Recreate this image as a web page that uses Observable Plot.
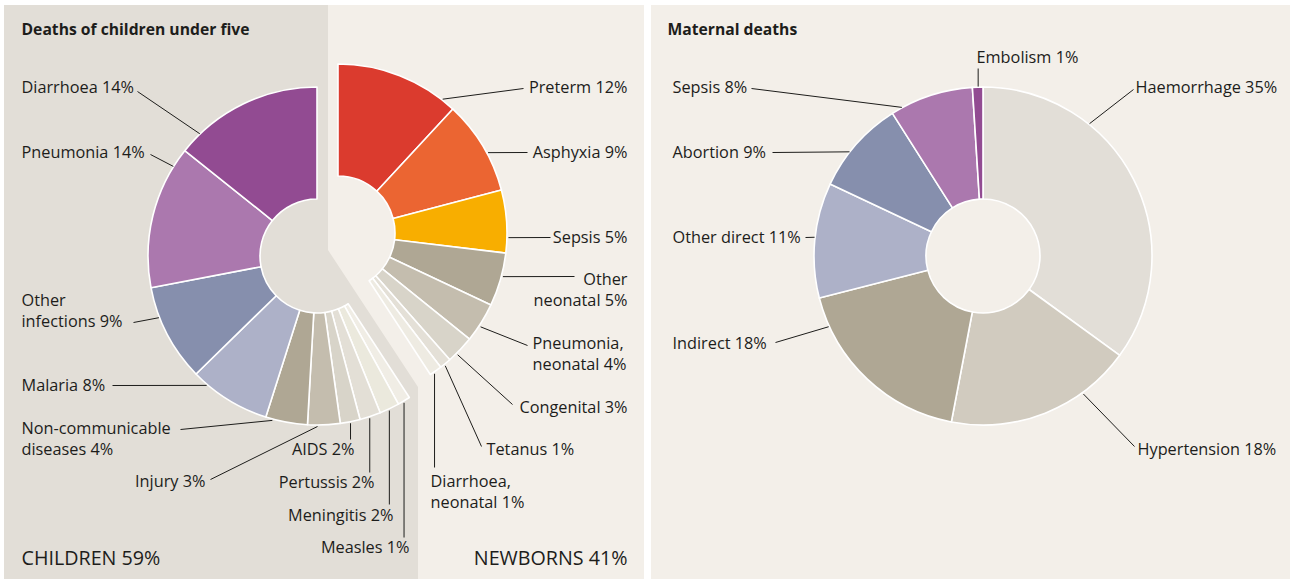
<!DOCTYPE html>
<html><head><meta charset="utf-8">
<script src="https://cdn.jsdelivr.net/npm/d3@7"></script>
<script src="https://cdn.jsdelivr.net/npm/@observablehq/plot@0.6"></script>
<style>body{margin:0;background:#fff;} svg{display:block;}</style>
</head><body><div id="chart"></div>
<script>
// ---------- DATA ----------
const newbornCauses = ["Preterm","Asphyxia","Sepsis","Other neonatal","Pneumonia, neonatal","Congenital","Tetanus","Diarrhoea, neonatal"];
const newbornValues = [11.9, 9.0, 6.0, 5.1, 3.8, 2.7, 1.1, 1.2];
const newbornLabels = ["Preterm 12%","Asphyxia 9%","Sepsis 5%","Other\nneonatal 5%","Pneumonia,\nneonatal 4%","Congenital 3%","Tetanus 1%","Diarrhoea,\nneonatal 1%"];

const childCauses = ["Measles","Meningitis","Pertussis","AIDS","Injury","Non-communicable diseases","Malaria","Other infections","Pneumonia","Diarrhoea"];
const childValues = [1.2, 1.9, 2.0, 1.9, 3.1, 4.0, 7.8, 9.3, 13.7, 14.3];
const childLabels = ["Measles 1%","Meningitis 2%","Pertussis 2%","AIDS 2%","Injury 3%","Non-communicable\ndiseases 4%","Malaria 8%","Other\ninfections 9%","Pneumonia 14%","Diarrhoea 14%"];

const maternalCauses = ["Haemorrhage","Hypertension","Indirect","Other direct","Abortion","Sepsis","Embolism"];
const maternalValues = [35, 18, 18, 11, 9, 8, 1];
const maternalLabels = ["Haemorrhage 35%","Hypertension 18%","Indirect 18%","Other direct 11%","Abortion 9%","Sepsis 8%","Embolism 1%"];

const panelTitles = ["Deaths of children under five","Maternal deaths"];
const groupLabels = ["CHILDREN 59%","NEWBORNS 41%"];

// ---------- STYLE ----------
const newbornColors = ["#db3b2e","#eb6532","#f8ae00","#afa794","#c4bdae","#d8d4c9","#e4e0d7","#eeebe2"];
const childColors = ["#f0ede5","#ebe9dd","#e3dfd6","#d8d4c9","#c4bdae","#afa794","#adb1c8","#868fad","#ab78ae","#924b92"];
const maternalColors = ["#e2ded7","#d1cbbf","#afa794","#adb1c8","#868fad","#ab78ae","#924b92"];
const DARK = "#e2ded7", LIGHT = "#f3efe9", INK = "#1d1d1b";
const FONT = "Open Sans";
const LABEL_SIZE = 16.3, TITLE_SIZE = 15.7, BIG_SIZE = 19.7;

// ---------- LAYOUT ----------
const centers = {newborn: [338, 233], children: [317, 256], maternal: [983, 256]};
const R0 = 57, R1 = 169, RL = 170;
// label layout: text x, text y (block centre), anchor, leader angle (deg), leader end x (null = vertical), leader end y
const newbornLayout = [
  [627, 87, "end", 37.8, 523, 88],
  [627, 152, "end", 61.6, 527, 152],
  [627, 237, "end", 91.4, 550, 237],
  [627, 289.5, "end", 104.7, 574, 276],
  [532, 353.5, "start", 123.3, 527, 345],
  [627, 407, "end", 135.5, 512, 404],
  [486, 449, "start", 141.1, 481, 446],
  [430, 492, "start", 145.6, null, 467]
];
const childLayout = [
  [409, 547, "end", 149.4, null, 537],
  [393, 515, "end", 155.0, null, 504],
  [374, 482, "end", 162.1, null, 472],
  [354, 449, "end", 168.8, null, 439],
  [205, 481, "end", 180.0, 210, 479],
  [21, 438.5, "start", 195.4, 180, 429],
  [21, 385, "start", 220.7, 112, 385],
  [21, 310.5, "start", 248.9, 133, 322],
  [21, 152, "start", 302.0, 150, 154],
  [21, 87, "start", 316.2, 137, 91]
];
const maternalLayout = [
  [1135, 87, "start", 38.6, 1133, 89],
  [1137, 449, "start", 144.0, 1134, 446],
  [672, 343, "start", 245.6, 775, 342],
  [672, 237, "start", 276.5, 805, 237],
  [672, 152, "start", 308.0, 772, 152],
  [672, 87, "start", 331.3, 751, 88],
  [976, 57, "start", 358.2, null, 68]
];

// ---------- BUILD TABLES ----------
const slices = [];
const labels = [];
const leaders = [];
function addGroup(group, causes, values, texts, colors, layout, startPct) {
  const [cx, cy] = centers[group];
  let cum = startPct;
  causes.forEach((c, i) => {
    const a0 = cum / 100 * 2 * Math.PI;
    cum += values[i];
    const a1 = cum / 100 * 2 * Math.PI;
    slices.push({group, cause: c, cx, cy, a0, a1, color: colors[i]});
    const [tx, ty, anchor, deg, ex, ey] = layout[i];
    const a = deg * Math.PI / 180;
    const sx = cx + RL * Math.sin(a), sy = cy - RL * Math.cos(a);
    leaders.push({x1: sx, y1: sy, x2: ex == null ? sx : ex, y2: ey});
    labels.push({x: tx, y: ty, text: texts[i], anchor});
  });
  return cum;
}
const nbTotal = addGroup("newborn", newbornCauses, newbornValues, newbornLabels, newbornColors, newbornLayout, 0);
addGroup("children", childCauses, childValues, childLabels, childColors, childLayout, nbTotal);
addGroup("maternal", maternalCauses, maternalValues, maternalLabels, maternalColors, maternalLayout, 0);

// donut mark rendered through the plot's x/y scales
function donut(data) {
  return (index, scales) => {
    const {x, y} = scales;
    const g = d3.create("svg:g");
    const arc = d3.arc();
    for (const s of data) {
      const px = x(s.cx), py = y(s.cy);
      const k = Math.abs(x(s.cx + 1) - x(s.cx));
      g.append("path")
        .attr("transform", `translate(${px},${py})`)
        .attr("d", arc({innerRadius: R0 * k, outerRadius: R1 * k, startAngle: s.a0, endAngle: s.a1}))
        .attr("fill", s.color)
        .attr("stroke", "#fff")
        .attr("stroke-width", 1.6)
        .attr("stroke-linejoin", "round");
    }
    return g.node();
  };
}

const darkArea = [{y: 5, x: 328}, {y: 250, x: 328}, {y: 387, x: 418}, {y: 579, x: 418}];
const panels = [{x1: 4, x2: 644, y1: 5, y2: 579}, {x1: 651, x2: 1290, y1: 5, y2: 579}];

const textOpts = {lineAnchor: "middle", fill: INK, fontFamily: FONT, dy: -1.5};

const chart = Plot.plot({
  width: 1290, height: 579, margin: 0,
  x: {domain: [0, 1290], range: [0, 1290], axis: null},
  y: {domain: [0, 579], range: [0, 579], axis: null},
  style: {background: "#fff", fontFamily: FONT},
  marks: [
    Plot.rect(panels, {x1: "x1", x2: "x2", y1: "y1", y2: "y2", fill: LIGHT}),
    Plot.areaX(darkArea, {y: "y", x1: 4, x2: "x", fill: DARK, curve: "linear"}),
    donut(slices),
    Plot.link(leaders, {x1: "x1", y1: "y1", x2: "x2", y2: "y2", stroke: INK, strokeWidth: 1}),
    Plot.text(labels.filter(d => d.anchor === "start"), {...textOpts, x: "x", y: "y", text: "text", textAnchor: "start", lineHeight: 1.29, fontSize: LABEL_SIZE}),
    Plot.text(labels.filter(d => d.anchor === "end"), {...textOpts, x: "x", y: "y", text: "text", textAnchor: "end", lineHeight: 1.29, fontSize: LABEL_SIZE}),
    Plot.text([panelTitles[0]], {...textOpts, dy: 0.5, x: 21, y: 29, text: d => d, textAnchor: "start", fontSize: TITLE_SIZE, fontWeight: "bold"}),
    Plot.text([panelTitles[1]], {...textOpts, dy: 0.5, x: 667, y: 29, text: d => d, textAnchor: "start", fontSize: TITLE_SIZE, fontWeight: "bold"}),
    Plot.text([groupLabels[0]], {...textOpts, dy: 0.5, x: 21, y: 558, text: d => d, textAnchor: "start", fontSize: BIG_SIZE}),
    Plot.text([groupLabels[1]], {...textOpts, dy: 0.5, x: 627, y: 558, text: d => d, textAnchor: "end", fontSize: BIG_SIZE})
  ]
});
document.getElementById("chart").append(chart);
</script>
</body></html>
